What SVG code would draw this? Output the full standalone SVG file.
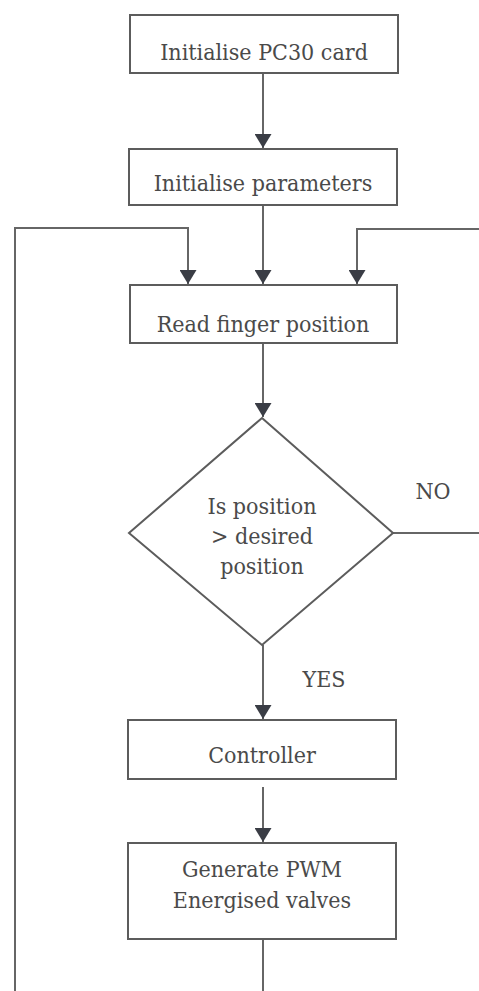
<svg xmlns="http://www.w3.org/2000/svg" width="479" height="991" viewBox="0 0 479 991">
<style>
.box{fill:#fff;stroke:#5c5c5c;stroke-width:2}
.ln{fill:none;stroke:#666;stroke-width:2}
.t{font-family:"DejaVu Serif Condensed","DejaVu Serif",serif;font-stretch:condensed;font-size:23px;fill:#4a4a4a;text-anchor:middle}
</style>
<defs>
<marker id="a" markerUnits="userSpaceOnUse" markerWidth="15" markerHeight="17" refX="14" refY="8.5" orient="auto" viewBox="0 0 15 17">
<path d="M0,0 L14,8.5 L0,17 Z" fill="#3a3d45"/>
</marker>
</defs>
<rect width="479" height="991" fill="#fff"/>
<g id="connectors">
<line class="ln" x1="263" y1="73" x2="263" y2="148" marker-end="url(#a)"/>
<line class="ln" x1="263" y1="205" x2="263" y2="284" marker-end="url(#a)"/>
<polyline class="ln" points="15,991 15,228 188,228 188,284" marker-end="url(#a)"/>
<polyline class="ln" points="479,229 357,229 357,284" marker-end="url(#a)"/>
<line class="ln" x1="263" y1="343" x2="263" y2="417" marker-end="url(#a)"/>
<line class="ln" x1="393" y1="533" x2="479" y2="533"/>
<line class="ln" x1="263" y1="645" x2="263" y2="719" marker-end="url(#a)"/>
<line class="ln" x1="263" y1="787" x2="263" y2="842" marker-end="url(#a)"/>
<line class="ln" x1="263" y1="939" x2="263" y2="991"/>
<text class="t" x="433" y="499">NO</text>
<text class="t" x="324" y="687">YES</text>
</g>
<g id="n1"><rect class="box" x="130" y="15" width="268" height="58"/><text class="t" x="264" y="60">Initialise PC30 card</text></g>
<g id="n2"><rect class="box" x="129" y="149" width="268" height="56"/><text class="t" x="263" y="191">Initialise parameters</text></g>
<g id="n3"><rect class="box" x="130" y="285" width="267" height="58"/><text class="t" x="263" y="332">Read finger position</text></g>
<g id="n4"><polygon class="box" points="262,418 393,533 262,645 129,533"/>
<text class="t" x="262" y="514">Is position</text><text class="t" x="262" y="544">&gt; desired</text><text class="t" x="262" y="574">position</text></g>
<g id="n5"><rect class="box" x="128" y="720" width="268" height="59"/><text class="t" x="262" y="763">Controller</text></g>
<g id="n6"><rect class="box" x="128" y="843" width="268" height="96"/><text class="t" x="262" y="877">Generate PWM</text><text class="t" x="262" y="908">Energised valves</text></g>
</svg>
